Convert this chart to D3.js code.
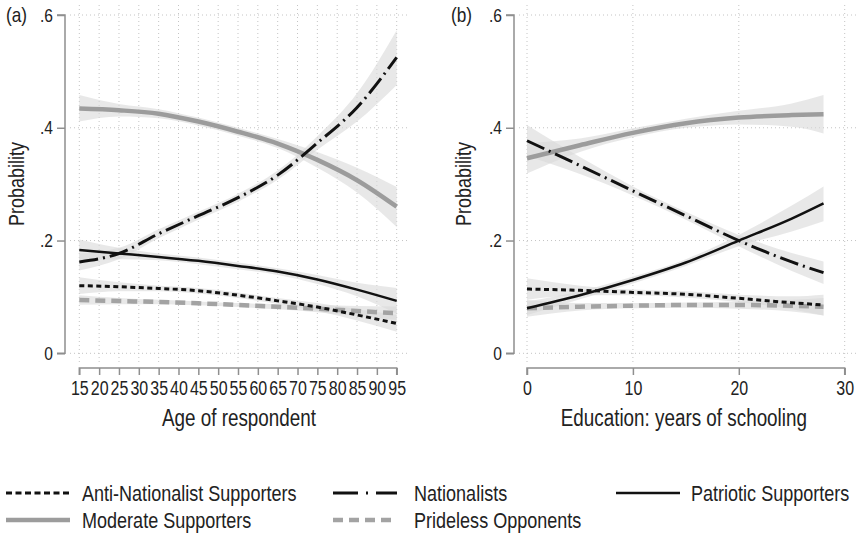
<!DOCTYPE html>
<html>
<head>
<meta charset="utf-8">
<script src="https://cdn.jsdelivr.net/npm/d3@7"></script>
<style>
  html, body { margin: 0; padding: 0; background: #fff; }
  svg { display: block; }
  text { font-family: "Liberation Sans", Arial, sans-serif; fill: #222; }
</style>
</head>
<body>
<svg id="chart" width="856" height="537"></svg>
<script>
// ---------- DATA ----------
const ageX = [15, 25, 35, 45, 55, 65, 75, 85, 95];
const ageTicks = [15, 20, 25, 30, 35, 40, 45, 50, 55, 60, 65, 70, 75, 80, 85, 90, 95];

const ageAnti      = [0.120, 0.118, 0.115, 0.111, 0.103, 0.093, 0.082, 0.068, 0.053];
const ageAntiLo    = [0.105, 0.110, 0.110, 0.106, 0.098, 0.088, 0.075, 0.058, 0.038];
const ageAntiHi    = [0.135, 0.126, 0.120, 0.116, 0.108, 0.098, 0.089, 0.078, 0.068];

const ageNat       = [0.162, 0.177, 0.212, 0.244, 0.276, 0.316, 0.373, 0.436, 0.525];
const ageNatLo     = [0.147, 0.167, 0.204, 0.237, 0.269, 0.308, 0.361, 0.411, 0.476];
const ageNatHi     = [0.177, 0.187, 0.220, 0.251, 0.283, 0.324, 0.385, 0.461, 0.573];

const agePat       = [0.183, 0.177, 0.171, 0.164, 0.155, 0.145, 0.131, 0.113, 0.093];
const agePatLo     = [0.164, 0.167, 0.165, 0.158, 0.149, 0.139, 0.123, 0.101, 0.070];
const agePatHi     = [0.202, 0.187, 0.177, 0.170, 0.161, 0.151, 0.139, 0.125, 0.116];

const ageMod       = [0.434, 0.431, 0.425, 0.411, 0.393, 0.372, 0.343, 0.307, 0.260];
const ageModLo     = [0.411, 0.420, 0.417, 0.404, 0.386, 0.364, 0.329, 0.285, 0.224];
const ageModHi     = [0.458, 0.442, 0.433, 0.418, 0.400, 0.380, 0.357, 0.329, 0.295];

const agePride     = [0.0945, 0.0927, 0.091, 0.0887, 0.0856, 0.0826, 0.079, 0.075, 0.071];
const agePrideLo   = [0.086, 0.087, 0.087, 0.085, 0.082, 0.078, 0.073, 0.066, 0.059];
const agePrideHi   = [0.103, 0.098, 0.095, 0.092, 0.089, 0.087, 0.085, 0.084, 0.083];

const eduX = [0, 5, 10, 15, 20, 25, 28];
const eduTicks = [0, 10, 20, 30];

const eduAnti      = [0.114, 0.1117, 0.108, 0.1046, 0.0975, 0.0897, 0.0856];
const eduAntiLo    = [0.095, 0.103, 0.103, 0.099, 0.091, 0.078, 0.067];
const eduAntiHi    = [0.133, 0.120, 0.113, 0.110, 0.104, 0.101, 0.104];

const eduNat       = [0.377, 0.333, 0.288, 0.244, 0.200, 0.162, 0.143];
const eduNatLo     = [0.350, 0.318, 0.280, 0.237, 0.190, 0.146, 0.123];
const eduNatHi     = [0.405, 0.348, 0.296, 0.251, 0.210, 0.178, 0.163];

const eduPat       = [0.080, 0.103, 0.130, 0.161, 0.200, 0.239, 0.266];
const eduPatLo     = [0.068, 0.096, 0.124, 0.155, 0.190, 0.216, 0.234];
const eduPatHi     = [0.092, 0.110, 0.136, 0.167, 0.210, 0.262, 0.296];

const eduMod       = [0.346, 0.369, 0.391, 0.408, 0.418, 0.4225, 0.424];
const eduModLo     = [0.319, 0.357, 0.383, 0.400, 0.406, 0.402, 0.390];
const eduModHi     = [0.373, 0.381, 0.399, 0.416, 0.430, 0.443, 0.458];

const eduPride     = [0.080, 0.0826, 0.0844, 0.0856, 0.0856, 0.0844, 0.0826];
const eduPrideLo   = [0.065, 0.076, 0.080, 0.081, 0.079, 0.074, 0.067];
const eduPrideHi   = [0.095, 0.089, 0.089, 0.090, 0.092, 0.095, 0.098];

const yTicks = [0, 0.2, 0.4, 0.6];
const yTickLabels = ["0", ".2", ".4", ".6"];

const seriesNames = ["Anti-Nationalist Supporters", "Nationalists", "Patriotic Supporters",
                     "Moderate Supporters", "Prideless Opponents"];

// ---------- STYLES ----------
const CONDENSE = 0.82;
const styles = {
  "Anti-Nationalist Supporters": { color: "#111", width: 3,   dash: "5,3.5", legendDash: "6,3.5" },
  "Nationalists":               { color: "#111", width: 3,   dash: "19,5,2,5", legendDash: "25,8,2,8,25,10" },
  "Patriotic Supporters":       { color: "#111", width: 2.5, dash: null, legendDash: null },
  "Moderate Supporters":        { color: "#9c9c9c", width: 4.5, dash: null, legendDash: null },
  "Prideless Opponents":        { color: "#a3a3a3", width: 4.5, dash: "10,6", legendDash: "10,6" }
};

const svg = d3.select("#chart");

function makePanel(opts) {
  const g = svg.append("g");
  const x = d3.scaleLinear().domain(opts.xDomain).range(opts.xRange);
  const y = d3.scaleLinear().domain([0, 0.6]).range([353.3, 15]);

  // grid
  g.append("g").selectAll("line.hg").data(yTicks).join("line")
    .attr("x1", opts.gridLeft).attr("x2", opts.gridRight)
    .attr("y1", d => y(d)).attr("y2", d => y(d))
    .attr("stroke", "#c4c4c4").attr("stroke-width", 1).attr("stroke-dasharray", "1,3");
  g.append("g").selectAll("line.vg").data(opts.xTicks).join("line")
    .attr("x1", d => x(d)).attr("x2", d => x(d))
    .attr("y1", 5).attr("y2", 362)
    .attr("stroke", "#c4c4c4").attr("stroke-width", 1).attr("stroke-dasharray", "1,3");

  // y axis
  const yAxis = d3.axisLeft(y).tickValues(yTicks).tickFormat((d, i) => yTickLabels[i]).tickSize(8).tickPadding(4);
  const ya = g.append("g").attr("transform", `translate(${opts.yAxisX},0)`).call(yAxis);
  ya.select(".domain").attr("stroke", "#8f8f8f").attr("stroke-width", 1.5).attr("d", `M-8,${y(0.6)}H0V${y(0)}H-8`);
  ya.selectAll(".tick line").attr("stroke", "#8f8f8f").attr("stroke-width", 1.5);
  ya.selectAll(".tick text").style("font-size", "19px").attr("fill", "#333");

  // x axis
  const xAxis = d3.axisBottom(x).tickValues(opts.xTicks).tickSize(7).tickPadding(6);
  const xa = g.append("g").attr("transform", `translate(0,368)`).call(xAxis);
  xa.select(".domain").attr("stroke", "#8f8f8f").attr("stroke-width", 1.5)
    .attr("d", `M${x(opts.xDomain[0])},7V0H${x(opts.xDomain[1])}V7`);
  xa.selectAll(".tick line").attr("stroke", "#8f8f8f").attr("stroke-width", 1.5);
  xa.selectAll(".tick text").style("font-size", "19.5px").attr("fill", "#333");

  // titles
  g.append("text").attr("x", (x(opts.xDomain[0]) + x(opts.xDomain[1])) / 2 + opts.titleShift).attr("y", 426)
    .attr("text-anchor", "middle").style("font-size", "23px").text(opts.xTitle);
  g.append("text").attr("transform", `translate(${opts.probX},184) rotate(-90)`)
    .attr("text-anchor", "middle").attr("dy", "0.35em").style("font-size", "22px").text("Probability");
  g.append("text").attr("x", opts.labelX).attr("y", 15).attr("dy", "0.35em")
    .style("font-size", "21px").text(opts.label);

  const area = d3.area().x(d => x(d.x)).y0(d => y(d.lo)).y1(d => y(d.hi)).curve(d3.curveMonotoneX);
  const line = d3.line().x(d => x(d.x)).y(d => y(d.v)).curve(d3.curveMonotoneX);

  const series = opts.series.map(s => ({
    name: s.name,
    pts: opts.xs.map((xv, i) => ({ x: xv, v: s.v[i], lo: s.lo[i], hi: s.hi[i] }))
  }));

  g.append("g").selectAll("path").data(series).join("path")
    .attr("d", d => area(d.pts))
    .attr("fill", "#d8d8d8").attr("fill-opacity", 0.6).attr("stroke", "none");

  g.append("g").selectAll("path").data(series).join("path")
    .attr("d", d => line(d.pts))
    .attr("fill", "none")
    .attr("stroke", d => styles[d.name].color)
    .attr("stroke-width", d => styles[d.name].width)
    .attr("stroke-dasharray", d => styles[d.name].dash);
}

makePanel({
  xDomain: [15, 95], xRange: [79.3, 396.7], xTicks: ageTicks, xs: ageX,
  yAxisX: 65, gridLeft: 70, gridRight: 410, titleShift: 1,
  xTitle: "Age of respondent", probX: 16, labelX: 6, label: "(a)",
  series: [
    { name: "Moderate Supporters", v: ageMod, lo: ageModLo, hi: ageModHi },
    { name: "Prideless Opponents", v: agePride, lo: agePrideLo, hi: agePrideHi },
    { name: "Anti-Nationalist Supporters", v: ageAnti, lo: ageAntiLo, hi: ageAntiHi },
    { name: "Patriotic Supporters", v: agePat, lo: agePatLo, hi: agePatHi },
    { name: "Nationalists", v: ageNat, lo: ageNatLo, hi: ageNatHi }
  ]
});

makePanel({
  xDomain: [0, 30], xRange: [527, 844.7], xTicks: eduTicks, xs: eduX,
  yAxisX: 514, gridLeft: 519, gridRight: 856, titleShift: -2,
  xTitle: "Education: years of schooling", probX: 463, labelX: 451, label: "(b)",
  series: [
    { name: "Moderate Supporters", v: eduMod, lo: eduModLo, hi: eduModHi },
    { name: "Prideless Opponents", v: eduPride, lo: eduPrideLo, hi: eduPrideHi },
    { name: "Anti-Nationalist Supporters", v: eduAnti, lo: eduAntiLo, hi: eduAntiHi },
    { name: "Patriotic Supporters", v: eduPat, lo: eduPatLo, hi: eduPatHi },
    { name: "Nationalists", v: eduNat, lo: eduNatLo, hi: eduNatHi }
  ]
});

// ---------- LEGEND ----------
const legendPos = [
  { sx: 6, tx: 82, y: 493 },
  { sx: 333, tx: 414, y: 493 },
  { sx: 616, tx: 691, y: 493 },
  { sx: 6, tx: 82, y: 520 },
  { sx: 333, tx: 414, y: 520 }
];
const lg = svg.append("g");
const items = lg.selectAll("g").data(seriesNames).join("g");
items.append("line")
  .attr("x1", (d, i) => legendPos[i].sx).attr("x2", (d, i) => legendPos[i].sx + 64)
  .attr("y1", (d, i) => legendPos[i].y).attr("y2", (d, i) => legendPos[i].y)
  .attr("stroke", d => styles[d].color).attr("stroke-width", d => styles[d].width)
  .attr("stroke-dasharray", d => styles[d].legendDash);
items.append("text")
  .attr("x", (d, i) => legendPos[i].tx).attr("y", (d, i) => legendPos[i].y)
  .attr("dy", "0.35em").style("font-size", "22px").text(d => d);

// condense all text horizontally (narrow Helvetica look) by scaling about the anchor point
svg.selectAll("text").each(function () {
  const t = this.getAttribute("transform") || "";
  const xv = parseFloat(this.getAttribute("x")) || 0;
  this.setAttribute("transform",
    `${t} translate(${xv},0) scale(${CONDENSE},1) translate(${-xv},0)`.trim());
});
</script>
</body>
</html>
